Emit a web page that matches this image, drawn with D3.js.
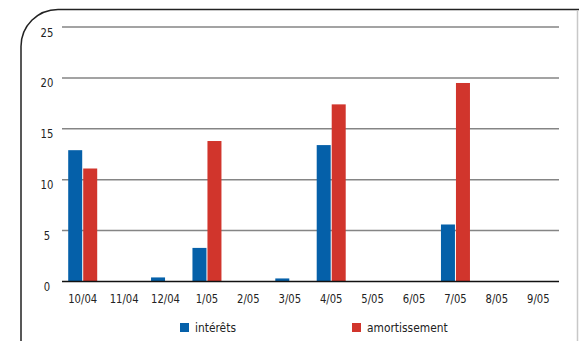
<!DOCTYPE html>
<html>
<head>
<meta charset="utf-8">
<script src="https://cdn.jsdelivr.net/npm/d3@7"></script>
<style>
  html, body { margin: 0; padding: 0; background: #fff; }
  svg { display: block; }
  text { font-family: "DejaVu Sans Condensed", "Liberation Sans Narrow", sans-serif; }
</style>
</head>
<body>
<svg id="chart" width="579" height="341"></svg>
<script>
// Monthly breakdown: interest vs. amortisation
const categories = ["10/04", "11/04", "12/04", "1/05", "2/05", "3/05", "4/05", "5/05", "6/05", "7/05", "8/05", "9/05"];
const interets = [12.9, 0, 0.4, 3.3, 0, 0.3, 13.4, 0, 0, 5.6, 0, 0];
const amortissement = [11.1, 0, 0, 13.8, 0, 0, 17.4, 0, 0, 19.5, 0, 0];
const seriesNames = ["intérêts", "amortissement"];
const yTicks = [0, 5, 10, 15, 20, 25];

const colors = { "intérêts": "#0560a9", "amortissement": "#d1352c" };

const svg = d3.select("#chart");

// Frame with a rounded top-left corner
const r = 37;
svg.append("path")
  .attr("d", `M21,341 L21,${9.5 + r} A${r},${r} 0 0 1 ${21 + r},9.5 L579,9.5`)
  .attr("fill", "none").attr("stroke", "#222").attr("stroke-width", 1.5);
svg.append("line")
  .attr("x1", 577.5).attr("x2", 577.5).attr("y1", 10).attr("y2", 341)
  .attr("stroke", "#c8c8c8").attr("stroke-width", 1.5);

const x0 = d3.scaleBand().domain(categories).range([62, 559]);
const y = d3.scaleLinear().domain([0, 25]).range([281.5, 27]);

// Horizontal grid
svg.append("g").selectAll("line")
  .data(yTicks.filter(t => t > 0))
  .join("line")
  .attr("x1", 62).attr("x2", 559)
  .attr("y1", d => y(d)).attr("y2", d => y(d))
  .attr("stroke", "#858585").attr("stroke-width", 1.5);

// Narrow-looking labels: taller glyphs squeezed horizontally
const sx = 0.86;

// Y tick labels
svg.append("g").selectAll("text")
  .data(yTicks)
  .join("text")
  .attr("transform", d => `translate(47,${y(d) + 9.5}) scale(${sx},1)`)
  .attr("text-anchor", "middle")
  .attr("font-size", 13).attr("fill", "#222")
  .text(d => d);

// Bars
const barW = 14;
const rows = categories.map((c, i) => ({ c, v: [interets[i], amortissement[i]] }));
const groups = svg.append("g").selectAll("g")
  .data(rows).join("g")
  .attr("transform", d => `translate(${x0(d.c) + x0.bandwidth() / 2},0)`);
groups.selectAll("rect")
  .data(d => d.v.map((v, k) => ({ v, k })).filter(e => e.v > 0))
  .join("rect")
  .attr("x", e => e.k === 0 ? -barW - 0.5 : 0.5)
  .attr("width", barW)
  .attr("y", e => y(e.v))
  .attr("height", e => y(0) - y(e.v))
  .attr("fill", e => colors[seriesNames[e.k]]);

// Zero axis
svg.append("line")
  .attr("x1", 62).attr("x2", 559)
  .attr("y1", y(0)).attr("y2", y(0))
  .attr("stroke", "#111").attr("stroke-width", 1.5);

// Category labels
svg.append("g").selectAll("text")
  .data(categories)
  .join("text")
  .attr("transform", d => `translate(${x0(d) + x0.bandwidth() / 2},303) scale(${sx},1)`)
  .attr("text-anchor", "middle")
  .attr("font-size", 13).attr("fill", "#222")
  .text(d => d);

// Legend
const legendX = [180, 352];
const legend = svg.append("g").selectAll("g")
  .data(seriesNames).join("g")
  .attr("transform", (d, i) => `translate(${legendX[i]},323)`);
legend.append("rect")
  .attr("width", 9).attr("height", 9)
  .attr("fill", d => colors[d]);
legend.append("text")
  .attr("transform", "translate(15,8.5) scale(0.95,1)")
  .attr("font-size", 12.5).attr("fill", "#222")
  .text(d => d);
</script>
</body>
</html>
